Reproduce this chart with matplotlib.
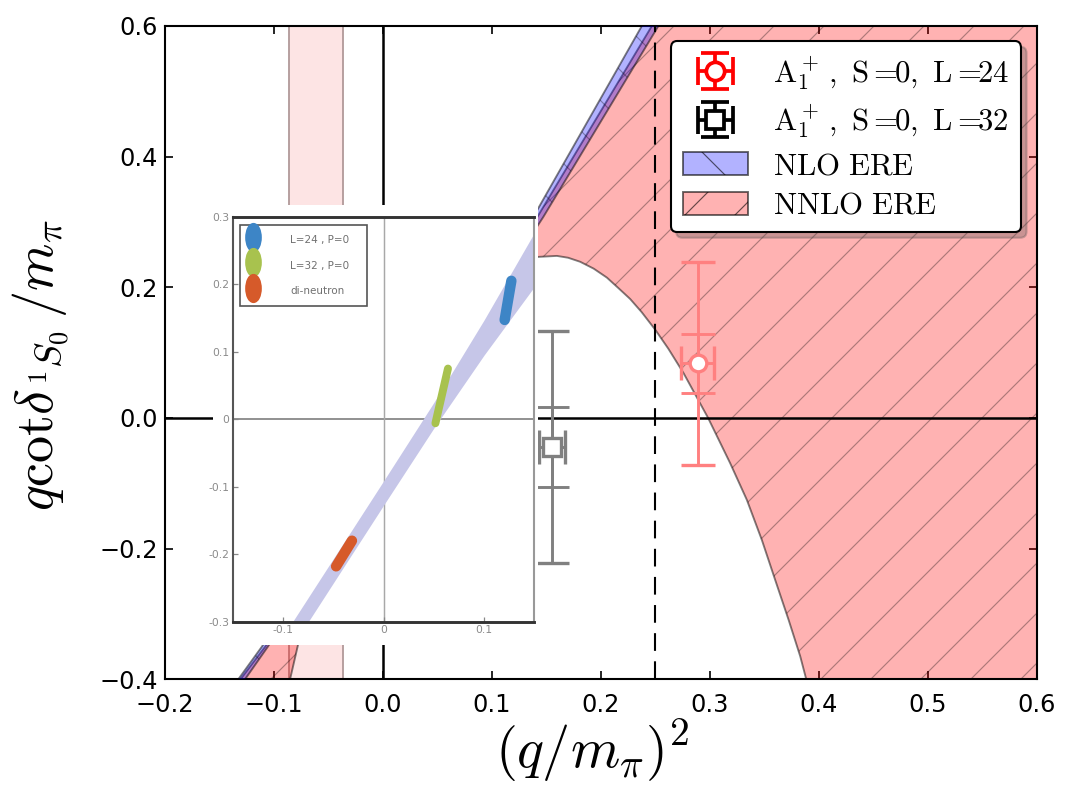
import numpy as np
import matplotlib
matplotlib.use("Agg")
import matplotlib.pyplot as plt
from matplotlib.path import Path
from matplotlib.transforms import Affine2D
from matplotlib.lines import Line2D
from matplotlib.patches import Rectangle
from matplotlib.container import ErrorbarContainer
from matplotlib.legend_handler import HandlerErrorbar

# figure is drawn at 300 dpi so that the hatch spacing matches; sizes below are in points
DPI = 300

# lattice points: L=24 (red) and L=32 (black)
pt_label = [r'$\mathrm{A}_1^+\,,\ \mathrm{S}=\!\!0,\ \mathrm{L}=\!\!24$',
            r'$\mathrm{A}_1^+\,,\ \mathrm{S}=\!\!0,\ \mathrm{L}=\!\!32$']
pt_x = [0.2888, 0.1551]
pt_y = [0.0837, -0.0439]
pt_xerr = [0.0149, 0.0118]
pt_stat_lo = [0.045, 0.062]
pt_stat_hi = [0.044, 0.060]
pt_tot_lo = [0.156, 0.1785]
pt_tot_hi = [0.155, 0.1775]
pt_color = ['#ff8080', '#808080']
pt_legend_color = ['red', 'black']
pt_marker = ['o', 's']
pt_ms = [4.0, 4.4]

# NLO ERE band, edges given as x(y)
nlo_y = [-0.45, -0.40, -0.35, 0.00, 0.308, 0.60, 0.65]
nlo_x_left = [-0.155, -0.1327, -0.111, 0.020, 0.1382, 0.2377, 0.2548]
nlo_x_right = [-0.148, -0.1265, -0.1055, 0.028, 0.1474, 0.2529, 0.271]

# NNLO ERE band: upper edge x(y) and lower curve (right branch -> left branch)
nnlo_up_y = [-0.45, -0.40, -0.35, 0.00, 0.308, 0.60, 0.65]
nnlo_up_x = [-0.152, -0.1307, -0.108, 0.024, 0.1419, 0.2469, 0.265]
nnlo_lo_x = [0.397, 0.3886, 0.3831, 0.3724, 0.3601, 0.3479, 0.3341, 0.3188, 0.2985,
             0.276, 0.262, 0.2500, 0.2375, 0.2270, 0.2160, 0.2056, 0.1935, 0.1811,
             0.1700, 0.1597, 0.1428, 0.12, 0.09, 0.06, 0.03, 0.0, -0.03, -0.055,
             -0.07, -0.0852, -0.094]
nnlo_lo_y = [-0.45, -0.40, -0.365, -0.309, -0.248, -0.187, -0.1255, -0.0694, 0.0,
             0.0685, 0.106, 0.135, 0.162, 0.182, 0.199, 0.2148, 0.2285, 0.2390,
             0.2452, 0.2480, 0.2465, 0.236, 0.208, 0.165, 0.108, 0.03, -0.07, -0.19,
             -0.29, -0.40, -0.45]
# far corner of the band, outside the view
nnlo_far = [0.8, -0.45, 0.65]

# light vertical band
deut_band = [-0.0859, -0.0363]
threshold = 0.25

# inset picture
ins_band_x = [-0.15, -0.1, -0.05, 0.0, 0.05, 0.1, 0.15]
ins_band_lo = [-0.395, -0.357, -0.242, -0.127, -0.013, 0.095, 0.196]
ins_band_hi = [-0.355, -0.321, -0.206, -0.091, 0.025, 0.147, 0.276]
ell_labels = ['L=24 , P=0', 'L=32 , P=0', 'di-neutron']
ell_color = ['#3d85c6', '#a8c24e', '#d65a2a']
ell_x0 = [0.1205, 0.0515, -0.0475]
ell_y0 = [0.147, -0.006, -0.218]
ell_x1 = [0.1272, 0.0640, -0.0317]
ell_y1 = [0.205, 0.075, -0.180]
ell_width = [2.5, 1.9, 2.5]
ins_xticks = [-0.1, 0.0, 0.1]
ins_xticklabels = ['-0.1', '0', '0.1']
ins_yticks = [-0.3, -0.2, -0.1, 0.0, 0.1, 0.2, 0.3]
ins_yticklabels = ['-0.3', '-0.2', '-0.1', '0', '0.1', '0.2', '0.3']

plt.rcParams['font.family'] = ['DejaVu Sans']
plt.rcParams['mathtext.fontset'] = 'cm'
plt.rcParams['hatch.linewidth'] = 0.28

HATCH_C = (0, 0, 0, 0.32)
EDGE_C = (0, 0, 0, 0.5)

fig = plt.figure(figsize=(1073 / DPI, 794 / DPI), dpi=DPI)
ax = fig.add_axes([0.1538, 0.1446, 0.8122, 0.8227])

ax.axvspan(deut_band[0], deut_band[1], facecolor='#fde4e4', edgecolor='#b49c9c',
           lw=0.45, zorder=1)

# NNLO band: hatched fill, edges drawn separately
nnlo_x = nnlo_up_x + [nnlo_far[0], nnlo_far[0]] + nnlo_lo_x
nnlo_y = nnlo_up_y + [nnlo_far[2], nnlo_far[1]] + nnlo_lo_y
nnlo_patch = ax.fill(nnlo_x, nnlo_y, facecolor=(1, 0, 0, 0.3), edgecolor=HATCH_C,
                     lw=0, hatch='//', label=r'$\mathrm{NNLO\ ERE}$', zorder=2)[0]
ax.plot(nnlo_up_x, nnlo_up_y, color=EDGE_C, lw=0.45, zorder=2.1)
ax.plot(nnlo_lo_x, nnlo_lo_y, color=EDGE_C, lw=0.45, zorder=2.1)

nlo_px = nlo_x_left + nlo_x_right[::-1]
nlo_py = nlo_y + nlo_y[::-1]
nlo_patch = ax.fill(nlo_px, nlo_py, facecolor=(0, 0, 1, 0.3), edgecolor=HATCH_C,
                    lw=0, hatch='\\\\', label=r'$\mathrm{NLO\ ERE}$', zorder=3)[0]
ax.plot(nlo_x_left, nlo_y, color=EDGE_C, lw=0.45, zorder=3.1)
ax.plot(nlo_x_right, nlo_y, color=EDGE_C, lw=0.45, zorder=3.1)

ax.axvline(threshold, color='k', lw=0.5, ls=(0, (8.5, 5)), zorder=4)
ax.axhline(0, color='k', lw=0.6, zorder=4)
ax.axvline(0, color='k', lw=0.6, zorder=4)

for i in range(len(pt_x)):
    ax.errorbar(pt_x[i], pt_y[i], yerr=[[pt_stat_lo[i]], [pt_stat_hi[i]]], fmt='none',
                ecolor=pt_color[i], elinewidth=0.7, capsize=4, capthick=0.7, zorder=5)
    ax.errorbar(pt_x[i], pt_y[i], xerr=pt_xerr[i], yerr=[[pt_tot_lo[i]], [pt_tot_hi[i]]],
                fmt=pt_marker[i], color=pt_color[i], mfc='white', mec=pt_color[i],
                ms=pt_ms[i], mew=0.8, elinewidth=0.7, capsize=4, capthick=0.7, zorder=6)

# legend proxies in full colour
handles = []
for i in range(len(pt_x)):
    h = ax.errorbar([np.nan], [np.nan], xerr=[0.01], yerr=[0.01], fmt=pt_marker[i],
                    color=pt_legend_color[i], mfc='white', mec=pt_legend_color[i],
                    ms=4.4, mew=0.9, elinewidth=0.9, capsize=3.4, capthick=0.9,
                    label=pt_label[i])
    handles.append(h)
handles += [nlo_patch, nnlo_patch]

ax.set_xlim(-0.2, 0.6)
ax.set_ylim(-0.4, 0.6)
ax.set_xticks(np.arange(-0.2, 0.61, 0.1))
ax.set_yticks(np.arange(-0.4, 0.61, 0.2))
ax.tick_params(direction='in', length=1.9, width=0.4, labelsize=5.76,
               top=True, right=True, pad=3.2)
ax.tick_params(axis='y', pad=1.8)
for s in ax.spines.values():
    s.set_linewidth(0.5)

ax.set_xlabel(r'$(q/m_\pi)^2$', fontsize=13.5)
ax.set_ylabel(r'$q\mathrm{cot}\delta_{\,{}^1S_0}\,/m_\pi$', fontsize=13)
ax.xaxis.set_label_coords(0.49, -0.058)
ax.yaxis.set_label_coords(-0.108, 0.48)

leg = ax.legend(handles=handles, loc='upper right', fontsize=7.4, fancybox=True,
                shadow={'ox': 1.3, 'oy': -1.3, 'alpha': 0.3},
                framealpha=1, edgecolor='k', borderpad=0.4,
                labelspacing=0.35, handlelength=2.1, handleheight=0.75,
                handletextpad=0.8, borderaxespad=0.5, numpoints=1,
                handler_map={ErrorbarContainer: HandlerErrorbar(xerr_size=0.58)})
leg.get_frame().set_linewidth(0.5)
leg.set_zorder(10)
for lh in leg.legend_handles[2:]:
    lh.set_edgecolor((0, 0, 0, 0.6))
    lh.set_linewidth(0.45)

# inset (pasted picture)
fig.add_artist(Rectangle((213 / 1073, 1 - 645 / 794), 325 / 1073, 440 / 794,
                         transform=fig.transFigure, facecolor='white',
                         edgecolor='none', zorder=2))
axi = fig.add_axes([0.2174, 0.2170, 0.2805, 0.5101], zorder=3)
axi.fill_between(ins_band_x, ins_band_lo, ins_band_hi, color='#c6c6e8', lw=0, zorder=1)
axi.axhline(0, color='#8c8c8c', lw=0.45, zorder=0.5)
axi.axvline(0, color='#a8a8a8', lw=0.35, zorder=0.5)
for i in range(len(ell_color)):
    axi.plot([ell_x0[i], ell_x1[i]], [ell_y0[i], ell_y1[i]], color=ell_color[i],
             lw=ell_width[i], solid_capstyle='round', zorder=2)
axi.set_xlim(-0.15, 0.15)
axi.set_ylim(-0.3, 0.3)
axi.set_xticks(ins_xticks)
axi.set_xticklabels(ins_xticklabels)
axi.set_yticks(ins_yticks)
axi.set_yticklabels(ins_yticklabels)
axi.tick_params(direction='in', length=1.2, width=0.3, color='#888888',
                labelsize=2.6, labelcolor='#8a8a8a', pad=0.9)
axi.spines['top'].set_color('#333333')
axi.spines['bottom'].set_color('#333333')
axi.spines['left'].set_color('#555555')
axi.spines['right'].set_color('#999999')
axi.spines['top'].set_linewidth(0.7)
axi.spines['bottom'].set_linewidth(0.7)
axi.spines['left'].set_linewidth(0.5)
axi.spines['right'].set_linewidth(0.5)

ell_marker = Path.unit_circle().transformed(Affine2D().scale(0.5, 1.0))
ins_handles = [Line2D([], [], ls='none', marker=ell_marker, ms=6, mfc=c, mec=c)
               for c in ell_color]
leg2 = axi.legend(ins_handles, ell_labels, loc='upper left',
                  bbox_to_anchor=(0.0223, 0.0, 0.422, 0.9795), mode='expand',
                  borderaxespad=0, fontsize=2.5, labelcolor='#707070',
                  fancybox=False, edgecolor='#555555', framealpha=1,
                  borderpad=0.55, labelspacing=0.62, handlelength=1.45,
                  handleheight=2.4, handletextpad=2.8)
leg2.get_frame().set_linewidth(0.4)

fig.savefig('out.png', dpi=DPI, facecolor='white')
